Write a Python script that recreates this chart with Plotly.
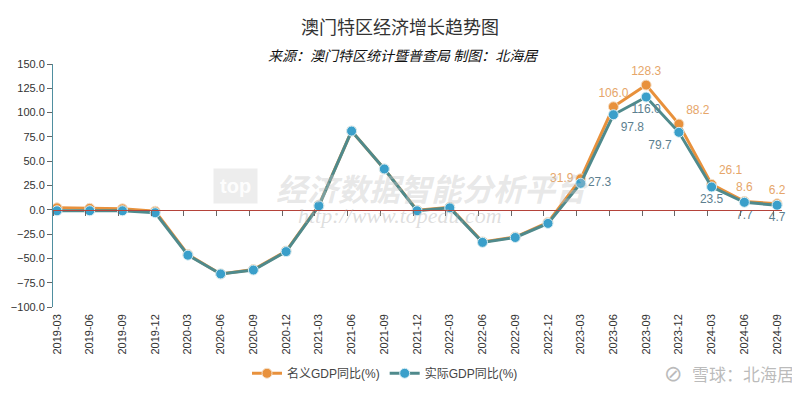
import plotly.graph_objects as go

quarters = ["2019-03", "2019-06", "2019-09", "2019-12",
            "2020-03", "2020-06", "2020-09", "2020-12",
            "2021-03", "2021-06", "2021-09", "2021-12",
            "2022-03", "2022-06", "2022-09", "2022-12",
            "2023-03", "2023-06", "2023-09", "2023-12",
            "2024-03", "2024-06", "2024-09"]
nominal = [2.0, 1.5, 1.0, -1.5,
           -46.0, -66.0, -61.5, -42.5,
           4.5, 81.0, 42.0, -0.5,
           2.5, -33.0, -28.0, -13.0,
           31.9, 106.0, 128.3, 88.2,
           26.1, 8.6, 6.2]
real = [-1.0, -1.0, -1.0, -3.0,
        -46.7, -66.0, -62.0, -43.0,
        4.0, 81.0, 42.0, -1.0,
        2.0, -33.5, -28.5, -14.0,
        27.3, 97.8, 116.0, 79.7,
        23.5, 7.7, 4.7]
label_from = "2023-03"
y_ticks = [-100, -75, -50, -25, 0, 25, 50, 75, 100, 125, 150]

FONT = "Liberation Sans, Arial, Noto Sans CJK SC, sans-serif"
CJK = "Noto Sans CJK SC, sans-serif"

start = quarters.index(label_from)
nom_text = ["" if i < start else f"{v:.1f}" for i, v in enumerate(nominal)]
real_text = ["" if i < start else f"{v:.1f}" for i, v in enumerate(real)]
nom_pos = ["top center"] * len(quarters)
real_pos = ["bottom center"] * len(quarters)
nom_pos[start] = "middle left"
nom_pos[start + 3] = "top right"
nom_pos[start + 4] = "top right"
real_pos[start] = "middle right"
real_pos[start + 1] = "bottom right"
real_pos[start + 3] = "bottom left"

fig = go.Figure()
fig.add_trace(go.Scatter(
    x=quarters, y=nominal, name="名义GDP同比(%)",
    mode="lines+markers+text", text=nom_text, textposition=nom_pos,
    textfont=dict(color="#e6a66a", size=12, family=FONT),
    line=dict(color="#e8913c", width=3),
    marker=dict(color="#e8913c", size=10, line=dict(color="#f5e0c8", width=1)),
    cliponaxis=False,
))
fig.add_trace(go.Scatter(
    x=quarters, y=real, name="实际GDP同比(%)",
    mode="lines+markers+text", text=real_text, textposition=real_pos,
    textfont=dict(color="#5d7f8f", size=12, family=FONT),
    line=dict(color="#4f8a8c", width=3),
    marker=dict(color="#3a9fca", size=10, line=dict(color="#d8eef5", width=1)),
    cliponaxis=False,
))
# invisible helper so the zero-line tick axis is drawn
fig.add_trace(go.Scatter(
    x=list(range(len(quarters))), y=real, xaxis="x2", mode="lines", opacity=0,
    line=dict(width=0), showlegend=False, hoverinfo="skip",
))

n = len(quarters) - 1
fig.update_layout(
    width=792, height=392,
    margin=dict(l=45, r=18, t=56, b=89),
    paper_bgcolor="white", plot_bgcolor="white",
    font=dict(family=FONT, color="#333333", size=11),
    showlegend=True,
    legend=dict(orientation="h", x=(247 - 53) / 729, y=(310.7 - 378) / 246.7,
                xanchor="left", yanchor="middle",
                font=dict(size=12, color="#444444", family=FONT),
                itemwidth=30, tracegroupgap=0),
    xaxis=dict(type="category", range=[-0.122, n + 0.15],
               tickangle=-90, tickfont=dict(size=11, color="#333333"),
               ticklabelstandoff=4,
               showline=False, ticks="", showgrid=False, zeroline=False, automargin=False),
    xaxis2=dict(type="linear", range=[0, n + 0.272], overlaying="x", anchor="free", position=0.4,
                tickmode="linear", tick0=0, dtick=1,
                showline=True, linecolor="#b5433a", linewidth=1,
                ticks="outside", ticklen=5, tickcolor="#666666",
                showticklabels=False, showgrid=False, zeroline=False, automargin=False),
    yaxis=dict(range=[-100, 150], tickvals=y_ticks, tickformat=".1f",
               showline=True, linecolor="#4f8fa0", linewidth=1,
               ticks="outside", ticklen=5, tickcolor="#666666",
               tickfont=dict(size=11, color="#333333"),
               showgrid=False, zeroline=False, automargin=False),
)


def px(X, Y):
    return (X - 53) / 729, (310.7 - Y) / 246.7


def note(text, X, Y, font, **kw):
    x, y = px(X, Y)
    fig.add_annotation(text=text, xref="paper", yref="paper", x=x, y=y,
                       xanchor="center", yanchor="middle", showarrow=False,
                       font=font, **kw)


note("澳门特区经济增长趋势图", 400, 25, dict(family=CJK, size=18, color="#333333"))
note("<i>来源：澳门特区统计暨普查局 制图：北海居</i>", 403, 55,
     dict(family=CJK, size=14, color="#111111"))
# watermarks
note("<i><b>经济数据智能分析平台</b></i>", 432, 189,
     dict(family=CJK, size=31, color="rgba(195,195,195,0.4)"))
note("<i>http://www.topedu.com</i>", 400, 218,
     dict(family="Liberation Serif, serif", size=22, color="rgba(170,170,170,0.4)"))
note("<b>top</b>", 235, 188, dict(family=FONT, size=20, color="rgba(255,255,255,0.95)"),
     bgcolor="rgba(215,215,215,0.45)", borderpad=6)
note("雪球：北海居", 743, 378, dict(family=CJK, size=17, color="rgba(165,165,165,0.75)"))
note("⊘", 673, 378, dict(family="DejaVu Sans", size=22, color="rgba(165,165,165,0.75)"))

fig.write_html("out.html")
